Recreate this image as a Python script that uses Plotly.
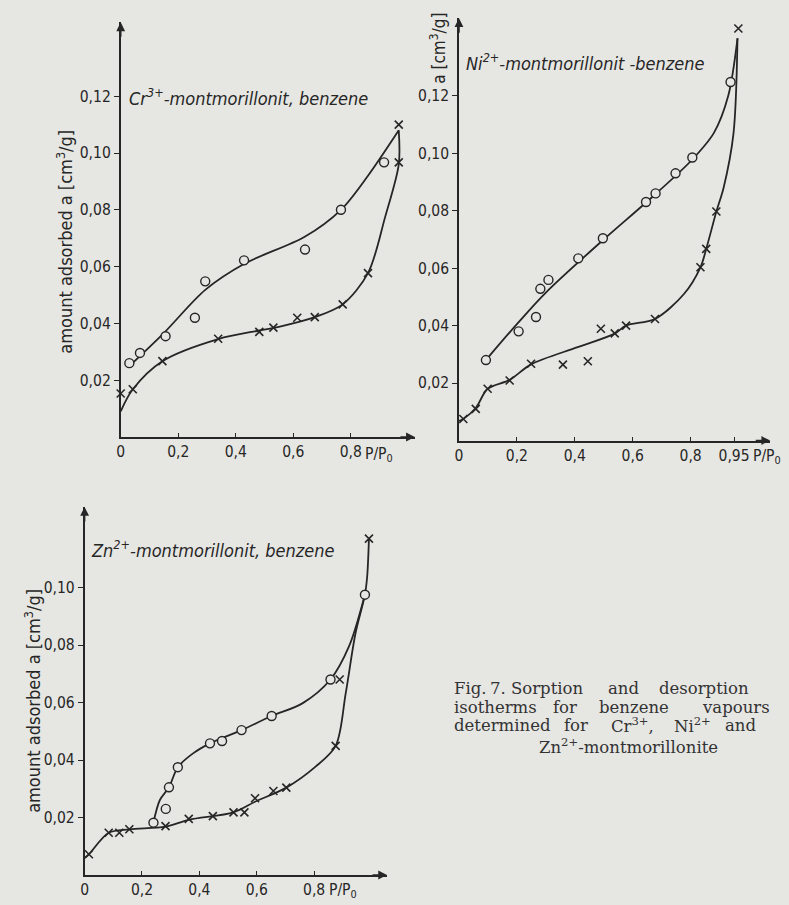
import plotly.graph_objects as go

# ---------------- data ----------------
# Cr3+-montmorillonite
cr_sorp_x = [0.030, 0.067, 0.156, 0.258, 0.294, 0.429, 0.641, 0.766, 0.916]
cr_sorp_y = [0.026, 0.0296, 0.0355, 0.042, 0.0548, 0.0622, 0.066, 0.080, 0.0967]
cr_des_x = [0.0, 0.042, 0.145, 0.339, 0.482, 0.531, 0.614, 0.675, 0.772, 0.860, 0.967, 0.967]
cr_des_y = [0.0153, 0.0168, 0.0267, 0.0346, 0.037, 0.0385, 0.042, 0.0422, 0.0467, 0.0577, 0.0967, 0.110]
cr_sorp_curve_x = [0.030, 0.15, 0.294, 0.43, 0.64, 0.766, 0.86, 0.967]
cr_sorp_curve_y = [0.025, 0.0366, 0.0518, 0.061, 0.0705, 0.080, 0.092, 0.108]
cr_des_curve_x = [0.967, 0.967, 0.92, 0.86, 0.772, 0.675, 0.55, 0.482, 0.339, 0.145, 0.042, 0.0]
cr_des_curve_y = [0.108, 0.096, 0.0776, 0.0577, 0.0467, 0.0422, 0.0388, 0.0375, 0.0345, 0.0267, 0.0168, 0.009]

# Ni2+-montmorillonite
ni_sorp_x = [0.093, 0.206, 0.266, 0.281, 0.309, 0.412, 0.497, 0.646, 0.679, 0.748, 0.806, 0.938]
ni_sorp_y = [0.028, 0.038, 0.043, 0.0528, 0.0559, 0.0634, 0.0704, 0.083, 0.086, 0.093, 0.0985, 0.1248]
ni_des_x = [0.015, 0.058, 0.099, 0.175, 0.249, 0.359, 0.445, 0.490, 0.538, 0.577, 0.677, 0.834, 0.854, 0.889, 0.965]
ni_des_y = [0.0075, 0.011, 0.018, 0.0209, 0.0267, 0.0264, 0.0276, 0.0389, 0.0373, 0.040, 0.0423, 0.0603, 0.0667, 0.0797, 0.1434]
ni_sorp_curve_x = [0.093, 0.20, 0.30, 0.50, 0.65, 0.80, 0.88, 0.93, 0.962]
ni_sorp_curve_y = [0.028, 0.0405, 0.0515, 0.070, 0.0832, 0.0972, 0.107, 0.120, 0.140]
ni_des_curve_x = [0.962, 0.948, 0.914, 0.889, 0.854, 0.834, 0.777, 0.677, 0.577, 0.538, 0.41, 0.249, 0.175, 0.099, 0.058, 0.015, 0.0]
ni_des_curve_y = [0.140, 0.1067, 0.088, 0.0797, 0.0667, 0.0603, 0.051, 0.0423, 0.040, 0.0372, 0.0325, 0.0265, 0.0211, 0.018, 0.0113, 0.0075, 0.0068]

# Zn2+-montmorillonite
zn_sorp_x = [0.240, 0.283, 0.294, 0.325, 0.437, 0.479, 0.547, 0.652, 0.857, 0.977]
zn_sorp_y = [0.0182, 0.023, 0.0305, 0.0375, 0.0458, 0.0466, 0.0504, 0.0553, 0.068, 0.0975]
zn_des_x = [0.015, 0.084, 0.121, 0.156, 0.282, 0.363, 0.447, 0.519, 0.557, 0.594, 0.658, 0.703, 0.875, 0.889, 0.991]
zn_des_y = [0.0072, 0.0147, 0.0147, 0.0159, 0.017, 0.0195, 0.0205, 0.0218, 0.0218, 0.0267, 0.0292, 0.0304, 0.0449, 0.068, 0.117]
zn_sorp_curve_x = [0.240, 0.262, 0.294, 0.325, 0.378, 0.437, 0.547, 0.652, 0.759, 0.857, 0.921, 0.977]
zn_sorp_curve_y = [0.0182, 0.026, 0.0305, 0.0375, 0.0423, 0.0458, 0.0504, 0.0553, 0.0597, 0.068, 0.0794, 0.0975]
zn_des_curve_x = [0.991, 0.985, 0.977, 0.944, 0.910, 0.875, 0.805, 0.703, 0.594, 0.519, 0.363, 0.282, 0.156, 0.084, 0.015, 0.003]
zn_des_curve_y = [0.117, 0.104, 0.0975, 0.084, 0.0632, 0.0449, 0.0377, 0.0304, 0.0255, 0.0218, 0.0192, 0.0168, 0.0159, 0.0147, 0.0072, 0.0062]

# tick labels
y_tick_vals_cr = [0.02, 0.04, 0.06, 0.08, 0.10, 0.12]
y_tick_text_cr = ["0,02", "0,04", "0,06", "0,08", "0,10", "0,12"]
y_tick_vals_ni = [0.02, 0.04, 0.06, 0.08, 0.10, 0.12]
y_tick_text_ni = ["0,02", "0,04", "0,06", "0,08", "0,10", "0,12"]
y_tick_vals_zn = [0.02, 0.04, 0.06, 0.08, 0.10]
y_tick_text_zn = ["0,02", "0,04", "0,06", "0,08", "0,10"]
x_tick_vals = [0, 0.2, 0.4, 0.6, 0.8]
x_tick_text = ["0", "0,2", "0,4", "0,6", "0,8"]
x_tick_vals_ni = [0, 0.2, 0.4, 0.6, 0.8, 0.95]
x_tick_text_ni = ["0", "0,2", "0,4", "0,6", "0,8", "0,95"]

# ---------------- styling / layout ----------------
W, H = 789, 905
INK = "#262626"
BG = "#e6e6e3"
TICKFONT = dict(family="DejaVu Sans Condensed, sans-serif", size=15.5, color=INK)
TITLEFONT = dict(family="DejaVu Sans Condensed, sans-serif", size=18, color=INK, style="italic")
YTFONT = dict(family="DejaVu Sans Condensed, sans-serif", size=18, color=INK)
YTFONT_NI = dict(family="DejaVu Sans Condensed, sans-serif", size=17, color=INK)
CAPFONT = dict(family="DejaVu Serif, serif", size=16.5, color="#333333")

def px(x):
    return x / W

def py(y):
    return 1 - y / H

# panel geometry: (origin px x, origin px y, px per unit x, px per unit y, x max, y max)
panels = {
    "1": dict(ox=117.3, oy=437.0, sx=289.0, sy=2840.0, xmax=1.023, ymax=0.146),
    "2": dict(ox=457.3, oy=440.5, sx=291.0, sy=2873.0, xmax=1.075, ymax=0.147),
    "3": dict(ox=81.0, oy=875.0, sx=288.4, sy=2875.0, xmax=1.054, ymax=0.128),
}

fig = go.Figure()

def add_panel(k, sx_, sy_, dx_, dy_, csx, csy, cdx, cdy):
    xa = "x" if k == "1" else "x" + k
    ya = "y" if k == "1" else "y" + k
    fig.add_trace(go.Scatter(x=csx, y=csy, mode="lines", line=dict(color=INK, width=1.8, shape="spline", smoothing=0.9),
                             xaxis=xa, yaxis=ya, hoverinfo="skip", showlegend=False))
    fig.add_trace(go.Scatter(x=cdx, y=cdy, mode="lines", line=dict(color=INK, width=1.8, shape="spline", smoothing=0.9),
                             xaxis=xa, yaxis=ya, hoverinfo="skip", showlegend=False))
    fig.add_trace(go.Scatter(x=sx_, y=sy_, mode="markers",
                             marker=dict(symbol="circle", size=9, color=BG, line=dict(color=INK, width=1.4)),
                             xaxis=xa, yaxis=ya, showlegend=False, cliponaxis=False))
    fig.add_trace(go.Scatter(x=dx_, y=dy_, mode="markers",
                             marker=dict(symbol="x-thin-open", size=8, color=INK, line=dict(color=INK, width=1.6)),
                             xaxis=xa, yaxis=ya, showlegend=False, cliponaxis=False))

add_panel("1", cr_sorp_x, cr_sorp_y, cr_des_x, cr_des_y, cr_sorp_curve_x, cr_sorp_curve_y, cr_des_curve_x, cr_des_curve_y)
add_panel("2", ni_sorp_x, ni_sorp_y, ni_des_x, ni_des_y, ni_sorp_curve_x, ni_sorp_curve_y, ni_des_curve_x, ni_des_curve_y)
add_panel("3", zn_sorp_x, zn_sorp_y, zn_des_x, zn_des_y, zn_sorp_curve_x, zn_sorp_curve_y, zn_des_curve_x, zn_des_curve_y)

layout = dict(width=W, height=H, margin=dict(l=0, r=0, t=0, b=0), paper_bgcolor=BG, plot_bgcolor="rgba(0,0,0,0)",
              showlegend=False)

ytick_sets = {"1": (y_tick_vals_cr, y_tick_text_cr), "2": (y_tick_vals_ni, y_tick_text_ni), "3": (y_tick_vals_zn, y_tick_text_zn)}
xtick_sets = {"1": (x_tick_vals, x_tick_text), "2": (x_tick_vals_ni, x_tick_text_ni), "3": (x_tick_vals, x_tick_text)}

annotations = []
for k, p in panels.items():
    xname = "xaxis" if k == "1" else "xaxis" + k
    yname = "yaxis" if k == "1" else "yaxis" + k
    xref = "x" if k == "1" else "x" + k
    yref = "y" if k == "1" else "y" + k
    x0 = px(p["ox"]); x1 = px(p["ox"] + p["xmax"] * p["sx"])
    y0 = py(p["oy"]); y1 = py(p["oy"] - p["ymax"] * p["sy"])
    layout[xname] = dict(domain=[x0, x1], range=[0, p["xmax"]], anchor=yref, showgrid=False, zeroline=False,
                         showline=True, linecolor=INK, linewidth=1.6, ticks="inside", ticklen=4, tickwidth=1.2,
                         tickcolor=INK, tickvals=xtick_sets[k][0], ticktext=xtick_sets[k][1], tickfont=TICKFONT)
    layout[yname] = dict(domain=[y0, y1], range=[0, p["ymax"]], anchor=xref, showgrid=False, zeroline=False,
                         showline=True, linecolor=INK, linewidth=1.6, ticks="outside", ticklen=5, tickwidth=1.2,
                         tickcolor=INK, tickvals=ytick_sets[k][0], ticktext=ytick_sets[k][1], tickfont=TICKFONT)
    # arrow heads at the ends of the axes
    annotations.append(dict(x=p["xmax"], y=0, xref=xref, yref=yref, ax=-16, ay=0, text="", showarrow=True,
                            arrowhead=2, arrowsize=1.1, arrowwidth=1.6, arrowcolor=INK))
    annotations.append(dict(x=0, y=p["ymax"], xref=xref, yref=yref, ax=0, ay=16, text="", showarrow=True,
                            arrowhead=2, arrowsize=1.1, arrowwidth=1.6, arrowcolor=INK))

# P/P0 labels after the last x tick
for (xp, yp) in [(361, 455), (751, 457), (325, 891)]:
    annotations.append(dict(x=px(xp), y=py(yp), xref="paper", yref="paper", xanchor="left", yanchor="middle",
                            text="P/P<sub>0</sub>", showarrow=False, font=TICKFONT))

# panel titles
annotations += [
    dict(x=px(124), y=py(97), xref="paper", yref="paper", xanchor="left", yanchor="middle", showarrow=False,
         text="Cr<sup>3+</sup>-montmorillonit, benzene", font=TITLEFONT),
    dict(x=px(462), y=py(62), xref="paper", yref="paper", xanchor="left", yanchor="middle", showarrow=False,
         text="Ni<sup>2+</sup>-montmorillonit -benzene", font=TITLEFONT),
    dict(x=px(85), y=py(549), xref="paper", yref="paper", xanchor="left", yanchor="middle", showarrow=False,
         text="Zn<sup>2+</sup>-montmorillonit, benzene", font=TITLEFONT),
]
# y-axis titles
annotations += [
    dict(x=px(61), y=py(242), xref="paper", yref="paper", xanchor="center", yanchor="middle", showarrow=False,
         textangle=-90, text="amount adsorbed a [cm<sup>3</sup>/g]", font=YTFONT),
    dict(x=px(436), y=py(48), xref="paper", yref="paper", xanchor="center", yanchor="middle", showarrow=False,
         textangle=-90, text="a [cm<sup>3</sup>/g]", font=YTFONT_NI),
    dict(x=px(29), y=py(701), xref="paper", yref="paper", xanchor="center", yanchor="middle", showarrow=False,
         textangle=-90, text="amount adsorbed a [cm<sup>3</sup>/g]", font=YTFONT),
]

# caption (justified text, word by word)
caption_words = [
    (688, [(450, "Fig."), (486, "7."), (508, "Sorption"), (605, "and"), (656, "desorption")]),
    (707, [(450, "isotherms"), (550, "for"), (596, "benzene"), (700, "vapours")]),
    (725, [(450, "determined"), (561, "for"), (608, "Cr<sup>3+</sup>,"), (671, "Ni<sup>2+</sup>"), (723, "and")]),
]
for yy, words in caption_words:
    for xx, w in words:
        annotations.append(dict(x=px(xx), y=py(yy), xref="paper", yref="paper", xanchor="left", yanchor="middle",
                                showarrow=False, text=w, font=CAPFONT))
annotations.append(dict(x=px(628), y=py(746), xref="paper", yref="paper", xanchor="center", yanchor="middle",
                        showarrow=False, text="Zn<sup>2+</sup>-montmorillonite", font=CAPFONT))

layout["annotations"] = annotations
fig.update_layout(**layout)
fig.write_html("out.html")
